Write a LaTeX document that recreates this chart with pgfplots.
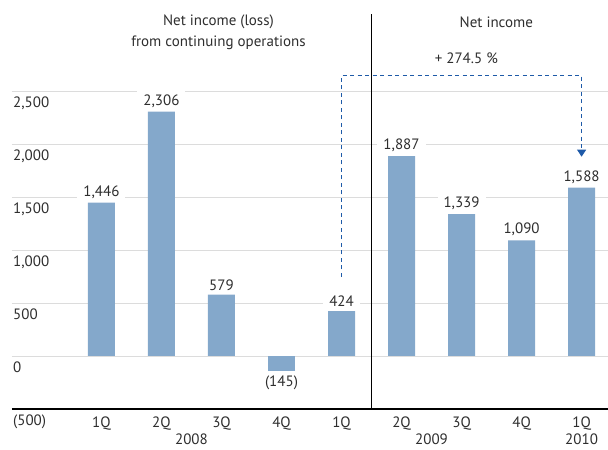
\documentclass[border=0pt]{standalone}
\usepackage{pgfplots}
\pgfplotsset{compat=1.18}
\usepackage{pgfplotstable}
\usepackage{fontspec}
\setmainfont{PT Sans}
\usetikzlibrary{arrows.meta}
\definecolor{barblue}{HTML}{84A8CB}
\definecolor{txt}{HTML}{2E2E2E}
\definecolor{gridc}{HTML}{DCDCDC}
\definecolor{arrowblue}{HTML}{1E5AA8}

\pgfplotstableread{
x y lab
0 1446 {1,446}
1 2306 {2,306}
2 579 579
4 424 424
5 1887 {1,887}
6 1339 {1,339}
7 1090 {1,090}
8 1588 {1,588}
}\pos
\pgfplotstableread{
x y lab
3 -145 (145)
}\negv

\begin{document}
\fontsize{15bp}{18bp}\selectfont
\begin{tikzpicture}
\begin{axis}[
  name=ax,
  scale only axis,
  width=596bp, height=394.96bp,
  xmin=-1.49, xmax=8.44,
  ymin=-500, ymax=3226,
  clip=false,
  axis line style={draw=none},
  major tick length=0pt,
  ymajorgrids, grid style={gridc, line width=0.8bp},
  ytick={-500,0,500,1000,1500,2000,2500},
  yticklabels={(500),0,500,{1,000},{1,500},{2,000},{2,500}},
  yticklabel style={anchor=north west, xshift=-4bp, yshift=-1bp, text=txt, font=\fontsize{15bp}{18bp}\selectfont},
  xtick={0,...,8},
  xticklabels={1Q,2Q,3Q,4Q,1Q,2Q,3Q,4Q,1Q},
  xticklabel style={yshift=-3bp, text=txt, font=\fontsize{15bp}{18bp}\selectfont},
  point meta=explicit symbolic,
  every node near coord/.append style={fill=white, text=txt, inner xsep=6bp, inner ysep=4bp, font=\fontsize{15bp}{18bp}\selectfont},
]
\addplot[ybar, bar width=27bp, bar shift=0pt, fill=barblue, draw=none,
  nodes near coords, nodes near coords style={anchor=south}]
  table[x=x, y=y, meta=lab] {\pos};
\addplot[ybar, bar width=27bp, bar shift=0pt, fill=barblue, draw=none,
  nodes near coords, nodes near coords style={anchor=north}]
  table[x=x, y=y, meta=lab] {\negv};

\draw[black, line width=1.2bp] (axis cs:-1.49,-500) -- (axis cs:8.44,-500);
\draw[black, line width=0.8bp] (axis cs:4.5,-500) -- (axis cs:4.5,3226);

\node[text=txt, anchor=north, inner sep=0pt] at ([yshift=-24.5bp]axis cs:1.5,-500) {2008};
\node[text=txt, anchor=north, inner sep=0pt] at ([yshift=-24.5bp]axis cs:5.5,-500) {2009};
\node[text=txt, anchor=north, inner sep=0pt] at ([yshift=-24.5bp]axis cs:8,-500) {2010};

\node[text=txt, align=center, inner sep=0pt] at (axis cs:1.95,3052) {Net income (loss)\\[3bp]from continuing operations};
\node[text=txt, inner sep=0pt] at (axis cs:6.58,3151) {Net income};
\node[text=txt, inner sep=0pt] at (axis cs:6.08,2811) {+ 274.5 \%};

\draw[arrowblue, line width=1bp, dash pattern=on 4bp off 3.5bp, -{Triangle[width=9bp,length=7bp]}]
  (axis cs:4,745) -- (axis cs:4,2645) -- (axis cs:8,2645) -- (axis cs:8,1880);
\end{axis}
\pgfresetboundingbox
\path[use as bounding box] ([xshift=-12bp,yshift=-40.4bp]ax.south west) rectangle ([yshift=14bp]ax.north east);
\end{tikzpicture}
\end{document}
